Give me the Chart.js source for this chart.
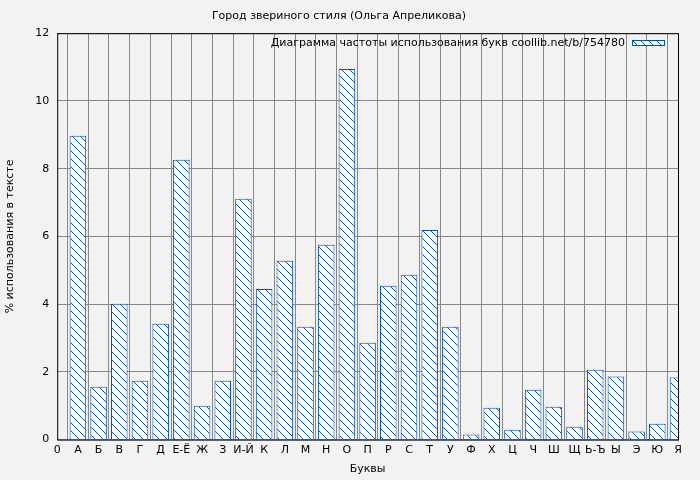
<!DOCTYPE html><html><head><meta charset="utf-8">
<script src="https://cdn.jsdelivr.net/npm/chart.js@4"></script>
<style>body{margin:0;background:#f2f2f2}#w{width:700px;height:480px}</style></head><body><div id="w"><canvas id="c"></canvas></div>
<script>
const categories=['0','А','Б','В','Г','Д','Е-Ё','Ж','З','И-Й','К','Л','М','Н','О','П','Р','С','Т','У','Ф','Х','Ц','Ч','Ш','Щ','Ь-Ъ','Ы','Э','Ю','Я'];
const values=[null,8.97,1.56,4.01,1.74,3.42,8.26,1.0,1.74,7.11,4.45,5.28,3.33,5.75,10.94,2.86,4.54,4.87,6.19,3.33,0.15,0.94,0.29,1.47,0.97,0.38,2.06,1.86,0.24,0.47,1.83];
const yTicks=[0,2,4,6,8,10,12];
const legendText='Диаграмма частоты использования букв coollib.net/b/754780';
function hatch(){const p=document.createElement('canvas');p.width=8;p.height=8;const g=p.getContext('2d');g.fillStyle='#fff';g.fillRect(0,0,8,8);g.strokeStyle='#0050c8';g.lineWidth=1;g.beginPath();g.moveTo(0,0);g.lineTo(8,8);g.moveTo(-4,4);g.lineTo(4,12);g.moveTo(4,-4);g.lineTo(12,4);g.stroke();return g.createPattern(p,'repeat');}
const ctx=document.getElementById('c').getContext('2d');
const pat=hatch();
const frame={id:'frame',beforeDraw(c){const x=c.ctx;x.fillStyle='#f2f2f2';x.fillRect(0,0,c.width,c.height);},afterDraw(c){const a=c.chartArea,x=c.ctx;x.save();x.strokeStyle='#000';x.lineWidth=1;x.strokeRect(a.left+0.5,a.top+0.5,a.right-a.left,a.bottom-a.top);
x.font='11px "DejaVu Sans"';x.fillStyle='#000';x.textBaseline='middle';x.textAlign='right';x.fillText(legendText,625,43);
x.fillStyle=pat;x.fillRect(632,40,32,6);x.strokeStyle='#0050c8';x.strokeRect(632.5,40.5,32,5);x.restore();}};
new Chart(ctx,{type:'bar',data:{labels:categories,datasets:[{data:values,backgroundColor:pat,borderColor:'#0050c8',borderWidth:1,barPercentage:0.8,categoryPercentage:1}]},
options:{responsive:true,maintainAspectRatio:false,animation:false,layout:{padding:{left:0,right:22,top:0,bottom:0}},
plugins:{legend:{display:false},tooltip:{enabled:false},title:{display:true,text:'Город звериного стиля (Ольга Апреликова)',color:'#000',font:{family:'DejaVu Sans',size:11,weight:'normal'},padding:{top:10,bottom:10}}},
scales:{x:{offset:false,grid:{color:'#888',borderDash:[2,2],drawTicks:false},border:{display:false},ticks:{color:'#000',font:{family:'DejaVu Sans',size:11},maxRotation:0,autoSkip:false,padding:4},title:{display:true,text:'Буквы',color:'#000',font:{family:'DejaVu Sans',size:11},padding:{top:2,bottom:4}}},
y:{min:0,max:12,afterBuildTicks(s){s.ticks=yTicks.map(v=>({value:v}));},grid:{color:'#888',borderDash:[2,2],drawTicks:false},border:{display:false},ticks:{color:'#000',font:{family:'DejaVu Sans',size:11},padding:8},title:{display:true,text:'% использования в тексте',color:'#000',font:{family:'DejaVu Sans',size:11},padding:{top:4,bottom:10}}}}},plugins:[frame]});
</script></body></html>
